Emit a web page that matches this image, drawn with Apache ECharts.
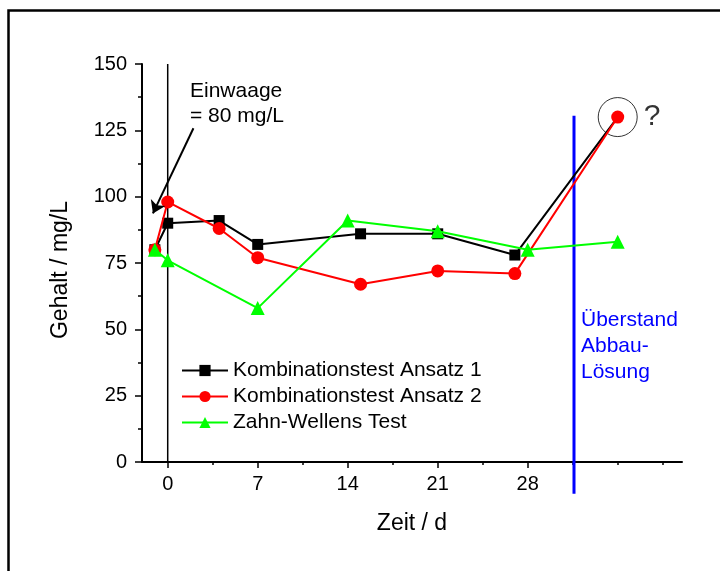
<!DOCTYPE html>
<html>
<head>
<meta charset="utf-8">
<script src="https://cdn.jsdelivr.net/npm/echarts@6/dist/echarts.min.js"></script>
<style>html,body{margin:0;padding:0;background:#fff}#c{width:720px;height:571px}</style>
</head>
<body>
<div id="c"></div>
<script>
const seriesNames = ['Kombinationstest Ansatz 1', 'Kombinationstest Ansatz 2', 'Zahn-Wellens Test'];
const days1 = [-1, 0, 4, 7, 15, 21, 27, 35];
const vals1 = [80, 90, 91, 82, 86, 86, 78, 130];
const days2 = [-1, 0, 4, 7, 15, 21, 27, 35];
const vals2 = [80, 98, 88, 77, 67, 72, 71, 130];
const days3 = [-1, 0, 7, 14, 21, 28, 35];
const vals3 = [80, 76, 58, 91, 87, 80, 83];
const xMajorTicks = [0, 7, 14, 21, 28];
const xMinorTicks = [3.5, 10.5, 17.5, 24.5, 31.5, 35, 38.5];
const startLine = [[0, 0], [0, 150]];
const blueLine = [[31.6, 130.5], [31.6, -12]];
const arrowFrom = [2, 125.8];
const arrowTo = [-1.15, 93.7];
const questionPoint = [[35, 130]];

const FONT = 'Liberation Sans, Arial, sans-serif';
const pairs = (xs, ys) => xs.map((x, i) => [x, ys[i]]);
const d1 = pairs(days1, vals1).map((p, i, a) => i === a.length - 1 ? { value: p, symbol: 'none' } : p);

const chart = echarts.init(document.getElementById('c'), null, { renderer: 'canvas' });
chart.setOption({
  animation: false,
  backgroundColor: '#fff',
  textStyle: { fontFamily: FONT },
  grid: { left: 142, right: 38, top: 64, bottom: 109, outerBoundsMode: 'none' },
  legend: {
    data: seriesNames,
    orient: 'vertical',
    left: 181,
    top: 360,
    padding: 0,
    itemWidth: 46,
    itemHeight: 14,
    itemGap: 5,
    textStyle: { fontSize: 21, color: '#000', fontFamily: FONT, lineHeight: 21 },
    selectedMode: false
  },
  xAxis: [{
    type: 'value', min: -2, max: 40,
    name: 'Zeit / d', nameLocation: 'middle', nameGap: 50,
    nameTextStyle: { fontSize: 23, color: '#000', fontFamily: FONT },
    axisLine: { show: true, onZero: false, lineStyle: { color: '#000', width: 2 } },
    axisTick: { show: true, customValues: xMajorTicks, length: 6, lineStyle: { color: '#000', width: 1.5 } },
    axisLabel: { customValues: xMajorTicks, fontSize: 20, color: '#000', margin: 12, fontFamily: FONT },
    splitLine: { show: false }
  }, {
    type: 'value', min: -2, max: 40, position: 'bottom',
    axisLine: { show: false, onZero: false },
    axisTick: { show: true, customValues: xMinorTicks, length: 3, lineStyle: { color: '#000', width: 1.5 } },
    axisLabel: { show: false },
    splitLine: { show: false }
  }],
  yAxis: {
    type: 'value', min: 0, max: 150, interval: 25,
    name: 'Gehalt / mg/L', nameLocation: 'middle', nameGap: 70,
    nameTextStyle: { fontSize: 23, color: '#000', fontFamily: FONT, padding: [0, 14, 0, 0] },
    axisLine: { show: true, onZero: false, lineStyle: { color: '#000', width: 2 } },
    axisTick: { show: true, length: 7, lineStyle: { color: '#000', width: 1.5 } },
    minorTick: { show: true, splitNumber: 2, length: 4, lineStyle: { color: '#000', width: 1.5 } },
    axisLabel: { fontSize: 20, color: '#000', margin: 15, fontFamily: FONT },
    splitLine: { show: false }
  },
  series: [
    {
      name: 'helper', type: 'line', data: startLine, symbol: 'none', silent: true, z: 1,
      lineStyle: { color: '#000', width: 1.5 }, clip: false,
      markLine: {
        silent: true, symbol: ['none', 'arrow'], symbolSize: 12,
        lineStyle: { color: '#000', width: 2, type: 'solid' },
        label: { show: false },
        data: [[{ coord: arrowFrom }, { coord: arrowTo }]]
      }
    },
    {
      name: 'blue', type: 'line', data: blueLine, symbol: 'none', silent: true, z: 1,
      lineStyle: { color: '#0000ff', width: 3 }, clip: false
    },
    {
      name: seriesNames[0], type: 'line', data: d1, symbol: 'rect', symbolSize: 11,
      itemStyle: { color: '#000' }, lineStyle: { color: '#000', width: 2 }, z: 3
    },
    {
      name: seriesNames[1], type: 'line', data: pairs(days2, vals2), symbol: 'circle', symbolSize: 13,
      itemStyle: { color: '#ff0000' }, lineStyle: { color: '#ff0000', width: 2 }, z: 4
    },
    {
      name: seriesNames[2], type: 'line', data: pairs(days3, vals3), symbol: 'triangle', symbolSize: 14,
      itemStyle: { color: '#00ff00' }, lineStyle: { color: '#00ff00', width: 2 }, z: 5
    },
    {
      name: 'circle', type: 'scatter', data: questionPoint, symbol: 'circle', symbolSize: 39, silent: true, z: 2,
      itemStyle: { color: 'rgba(0,0,0,0)', borderColor: '#000', borderWidth: 1 },
      label: { show: true, position: 'right', distance: 6, formatter: '?', fontSize: 30, color: '#000', fontFamily: FONT }
    }
  ],
  graphic: [
    { type: 'rect', left: 6, top: 8, silent: true, shape: { width: 900, height: 800 }, style: { fill: 'none', stroke: '#000', lineWidth: 2.5 } },
    { type: 'text', left: 190, top: 79, silent: true, style: { text: 'Einwaage\n= 80 mg/L', fontSize: 21, lineHeight: 25, fill: '#000', fontFamily: FONT } },
    { type: 'text', left: 581, top: 307, silent: true, style: { text: 'Überstand\nAbbau-\nLösung', fontSize: 21, lineHeight: 26, fill: '#0000ff', fontFamily: FONT } }
  ]
});
</script>
</body>
</html>
